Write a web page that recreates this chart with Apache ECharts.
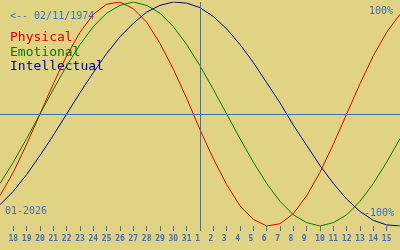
<!DOCTYPE html>
<html>
<head>
<meta charset="utf-8">
<script src="https://cdn.jsdelivr.net/npm/echarts@6/dist/echarts.min.js"></script>
<style>
html,body{margin:0;padding:0;background:#e0d383;}
#c{width:400px;height:250px;}
</style>
</head>
<body>
<div id="c"></div>
<script>
// Days shown (Dec 17 .. Jan 16); edge days carry no label
var days = ['17','18','19','20','21','22','23','24','25','26','27','28','29','30','31',
            '1','2','3','4','5','6','7','8','9','10','11','12','13','14','15','16'];
var physical = [-73,-52,-27,0,27,52,73,89,98,100,94,82,63,40,14,-14,-40,-63,-82,-94,-100,-98,-89,-73,-52,-27,0,27,52,73,89];
var emotional = [-62,-43,-22,0,22,43,62,78,90,97,100,97,90,78,62,43,22,0,-22,-43,-62,-78,-90,-97,-100,-97,-90,-78,-62,-43,-22];
var intellectual = [-81,-69,-54,-37,-19,0,19,37,54,69,81,91,97,100,99,95,87,76,62,46,28,10,-10,-28,-46,-62,-76,-87,-95,-99,-100];
var todayLabel = '1';
var birthText = '<-- 02/11/1974';
var monthText = '01-2026';
var topText = '100%';
var bottomText = '-100%';
var legendNames = ['Physical','Emotional','Intellectual'];

var BLUE = '#3b6fc4';
var COLORS = ['#e00000','#007c00','#00008c'];
var MONO = '"DejaVu Sans Mono", "Liberation Mono", monospace';

var chart = echarts.init(document.getElementById('c'));
function inner(i){ return i > 0 && i < days.length - 1; }
function lineSeries(name, data, color, extra){
  var s = {
    name: name, type: 'line', data: data, symbol: 'none', smooth: false,
    lineStyle: {color: color, width: 1}, itemStyle: {color: color},
    silent: true, z: 3
  };
  if (extra) s.markLine = extra;
  return s;
}
chart.setOption({
  animation: false,
  backgroundColor: '#e0d383',
  grid: {left: 0, right: 0, top: 2, bottom: 24},
  xAxis: {
    type: 'category', data: days, boundaryGap: false,
    axisLine: {show: false, onZero: false},
    axisTick: {show: true, length: 5, interval: function(i){ return inner(i); },
               lineStyle: {color: BLUE, width: 1}},
    axisLabel: {interval: function(i){ return inner(i); }, margin: 9,
                color: BLUE, fontFamily: MONO, fontSize: 8, fontWeight: 'bold',
                formatter: function(v){ return v.length === 1 ? v + ' ' : v; }},
    splitLine: {show: false}
  },
  yAxis: {
    type: 'value', min: -100, max: 100, show: false,
    splitLine: {show: false}
  },
  series: [
    lineSeries(legendNames[0], physical, COLORS[0], {
      silent: true, symbol: 'none', label: {show: false},
      lineStyle: {color: BLUE, width: 1, type: 'solid'},
      data: [{xAxis: todayLabel}, {yAxis: 0}]
    }),
    lineSeries(legendNames[1], emotional, COLORS[1]),
    lineSeries(legendNames[2], intellectual, COLORS[2])
  ],
  graphic: [
    {type: 'text', left: 10, top: 11, style: {text: birthText, fill: BLUE, font: '10px ' + MONO}},
    {type: 'text', right: 7, top: 6, style: {text: topText, fill: BLUE, font: '10px ' + MONO}},
    {type: 'text', right: 6, top: 208, style: {text: bottomText, fill: BLUE, font: '10px ' + MONO}},
    {type: 'text', left: 5, top: 206, style: {text: monthText, fill: BLUE, font: '10px ' + MONO}},
    {type: 'text', left: 10, top: 31, style: {text: legendNames[0], fill: COLORS[0], font: '13px ' + MONO}},
    {type: 'text', left: 10, top: 46, style: {text: legendNames[1], fill: COLORS[1], font: '13px ' + MONO}},
    {type: 'text', left: 10, top: 60, style: {text: legendNames[2], fill: COLORS[2], font: '13px ' + MONO}}
  ]
});
</script>
</body>
</html>
